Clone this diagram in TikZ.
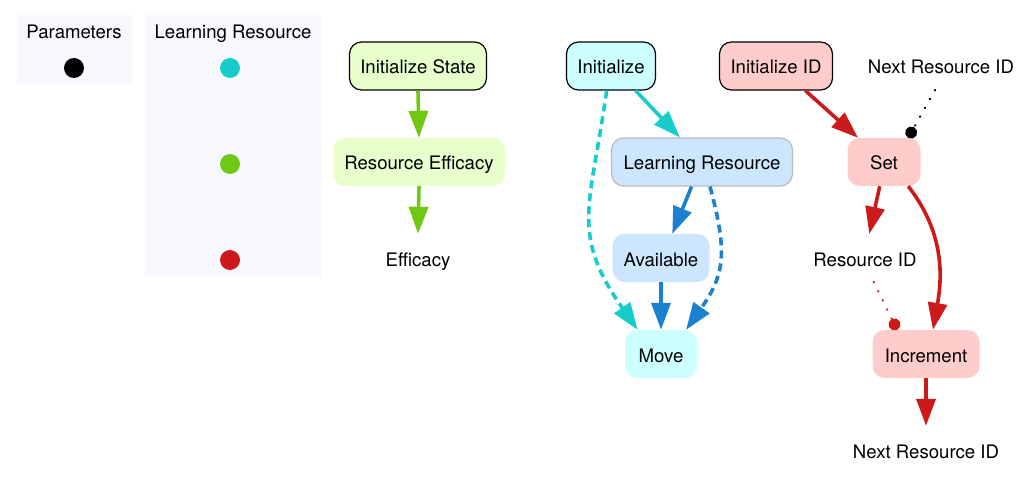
\documentclass[tikz,border=0pt]{standalone}
\usepackage{fontspec}
\setmainfont{TeX Gyre Heros}
\usetikzlibrary{arrows.meta}
\definecolor{legendbg}{HTML}{F8F9FE}
\definecolor{greenline}{HTML}{6EC814}
\definecolor{greenfill}{HTML}{E8FFCC}
\definecolor{cyanline}{HTML}{19CCCC}
\definecolor{cyanfill}{HTML}{CCFFFF}
\definecolor{blueline}{HTML}{1A80D0}
\definecolor{bluefill}{HTML}{CCE6FF}
\definecolor{redline}{HTML}{CC1A1A}
\definecolor{redfill}{HTML}{FFCCCC}
\begin{document}
\begin{tikzpicture}[x=1pt, y=1pt, font=\fontsize{18.6}{21}\selectfont,
  every node/.style={text height=16pt, text depth=0pt},
  box/.style={rounded corners=12pt, minimum height=48pt, inner sep=0pt},
  plain/.style={minimum height=48pt, inner sep=0pt},
  dot/.style={circle, inner sep=0pt, minimum size=20pt},
  flow/.style={line width=3.6pt, -{Triangle[length=27pt, width=19pt]}},
  dashflow/.style={flow, dash pattern=on 8pt off 5pt},
  dotlink/.style={line width=2.5pt, line cap=round, dash pattern=on 0.1pt off 10pt, -{Circle[length=12pt]}}]
\useasboundingbox (0,0) rectangle (1031,-481);

% legend
\fill[legendbg] (17,-15) rectangle (132,-85);
\fill[legendbg] (145,-15) rectangle (322,-277);
\node (partitle) at (74,-31) {Parameters};
\node (pardot) at (74,-68) [dot, fill=black] {};
\node (lrtitle) at (233,-31) {Learning Resource};
\node (cyandot) at (230,-68) [dot, fill=cyanline] {};
\node (greendot) at (230,-164) [dot, fill=greenline] {};
\node (reddot) at (230,-260) [dot, fill=redline] {};

% efficacy
\node (initstate) at (418,-66) [box, draw, line width=1.2pt, fill=greenfill, minimum width=137pt] {Initialize State};
\node (reseff) at (419,-162) [box, fill=greenfill, minimum width=172pt] {Resource Efficacy};
\node (effic) at (418,-258) [plain] {Efficacy};

\draw[flow, greenline] (initstate.south) to (reseff.north);
\draw[flow, greenline] (reseff.south) to (effic.north);

% resources
\node (init) at (611,-66) [box, draw, line width=1.2pt, fill=cyanfill, minimum width=89pt] {Initialize};
\node (lres) at (702,-162) [box, draw=black!27, line width=1.2pt, fill=bluefill, minimum width=181pt] {Learning Resource};
\node (avail) at (661,-258) [box, fill=bluefill, minimum width=97pt] {Available};
\node (move) at (661,-354) [box, fill=cyanfill, minimum width=72pt] {Move};

\draw[flow, cyanline] (init.-45) to (lres.132);
\draw[dashflow, cyanline] (init.-100) to[out=-98, in=125, looseness=1.25] (move.134);
\draw[flow, blueline] (lres.-113) to (avail.65);
\draw[flow, blueline] (avail.south) to (move.north);
\draw[dashflow, blueline] (lres.-72) to[out=-75, in=55, looseness=1.2] (move.44);

% ids
\node (initid) at (776,-66) [box, draw, line width=1.2pt, fill=redfill, minimum width=113pt] {Initialize ID};
\node (nextid) at (941,-66) [plain] {Next Resource ID};
\node (set) at (884,-162) [box, fill=redfill, minimum width=73pt] {Set};
\node (resid) at (865,-258) [plain] {Resource ID};
\node (incr) at (926,-354) [box, fill=redfill, minimum width=107pt] {Increment};
\node (nextout) at (926,-450) [plain] {Next Resource ID};

\draw[flow, redline] (initid.-40) to (set.137);
\draw[dotlink, black] (nextid.-104) to (set.45);
\draw[flow, redline] (set.-100) to (resid.80);
\draw[flow, redline] (set.-45) to[out=-52, in=80] (incr.74);
\draw[dotlink, redline] (resid.-70) to (incr.140);
\draw[flow, redline] (incr.south) to (nextout.north);
\end{tikzpicture}
\end{document}
